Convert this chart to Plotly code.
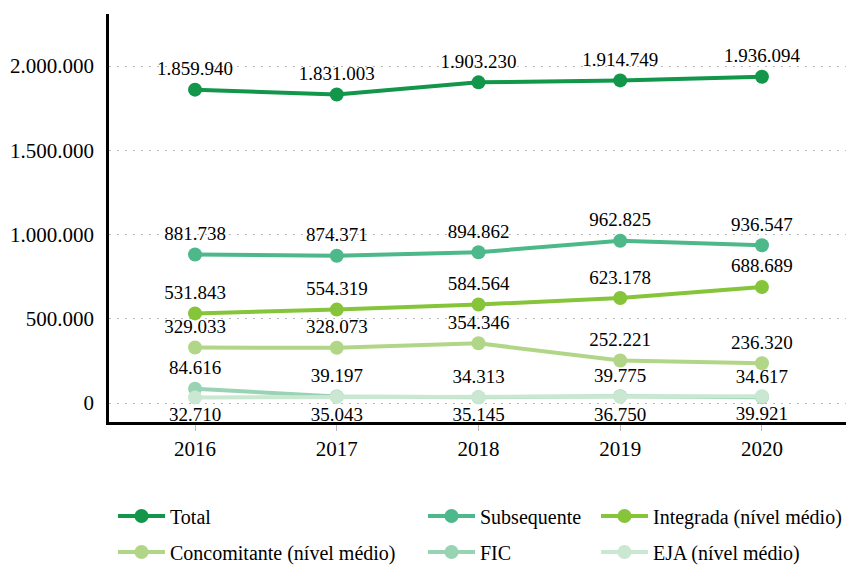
import plotly.graph_objects as go

years = [2016, 2017, 2018, 2019, 2020]

total = [1859940, 1831003, 1903230, 1914749, 1936094]
subsequente = [881738, 874371, 894862, 962825, 936547]
integrada = [531843, 554319, 584564, 623178, 688689]
concomitante = [329033, 328073, 354346, 252221, 236320]
fic = [84616, 39197, 34313, 39775, 34617]
eja = [32710, 35043, 35145, 36750, 39921]

series = [
    ("Total", total, "#11964a", "top center"),
    ("Subsequente", subsequente, "#4db88a", "top center"),
    ("Integrada (nível médio)", integrada, "#86c43a", "top center"),
    ("Concomitante (nível médio)", concomitante, "#b1d687", "top center"),
    ("FIC", fic, "#98d4b3", "top center"),
    ("EJA (nível médio)", eja, "#c9e7d1", "bottom center"),
]

FONT = "Liberation Serif"

# page body has an 8px margin, so everything is placed 8px up/left
OFF = 8
W, H = 854, 566

# one legend per entry so the columns can be placed like the original
legend_pos = [
    (113, 516), (423, 516), (596, 516),
    (113, 552), (423, 552), (596, 552),
]

fig = go.Figure()
layout_legends = {}
for i, (name, vals, color, tpos) in enumerate(series):
    leg = "legend" if i == 0 else f"legend{i + 1}"
    fig.add_trace(go.Scatter(
        x=years, y=vals, name=name, mode="lines+markers+text",
        line=dict(color=color, width=4),
        marker=dict(color=color, size=14),
        text=vals, texttemplate="%{y:,d}", textposition=tpos,
        textfont=dict(size=19, color="black", family=FONT),
        legend=leg, hoverinfo="skip", showlegend=True,
    ))
    lx, ly = legend_pos[i]
    layout_legends[leg] = dict(
        xref="container", yref="container",
        x=(lx - OFF) / W, y=1 - (ly - OFF) / H, xanchor="left", yanchor="middle",
        bgcolor="rgba(0,0,0,0)", font=dict(size=20, color="black", family=FONT),
        itemwidth=47, visible=True,
    )

fig.update_layout(
    width=W, height=H,
    margin=dict(l=109 - OFF, r=W - (847 - OFF), t=14 - OFF, b=H - (422 - OFF),
                autoexpand=False),
    plot_bgcolor="white", paper_bgcolor="white",
    font=dict(family=FONT, color="black"),
    separators=",.",
    showlegend=True,
    **layout_legends,
)
fig.update_xaxes(
    range=[2015.393, 2020.6], tickvals=years, showgrid=False,
    showline=True, linecolor="black", linewidth=2.5,
    ticks="outside", ticklen=6, tickcolor="#bbb", tickwidth=1,
    tickfont=dict(size=21, family=FONT, color="black"), zeroline=False,
)
fig.update_yaxes(
    range=[-112760, 2309000], tickvals=[0, 500000, 1000000, 1500000, 2000000],
    tickformat=",d", showgrid=True, gridcolor="#bbb", griddash="2px,6px", gridwidth=1,
    showline=True, linecolor="black", linewidth=2.5, zeroline=False,
    tickfont=dict(size=21, family=FONT, color="black"), ticks="", ticklabelstandoff=8,
)

fig.write_html("out.html")
